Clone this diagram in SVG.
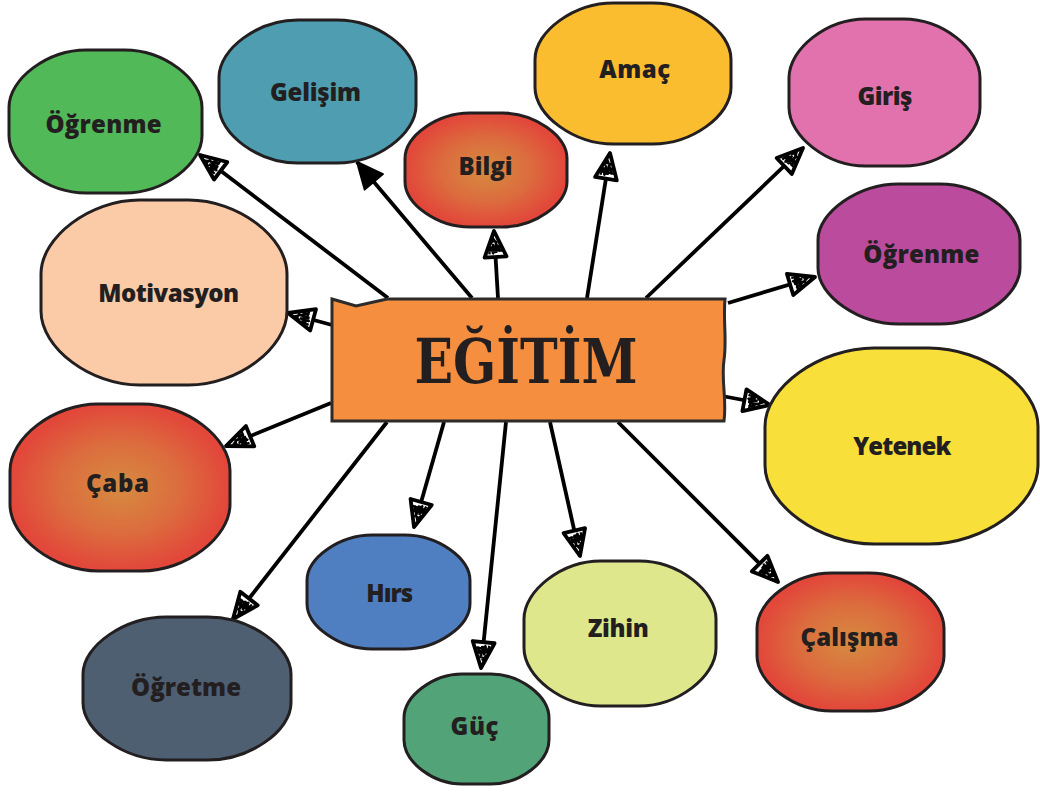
<svg xmlns="http://www.w3.org/2000/svg" width="1040" height="792" viewBox="0 0 1040 792">
<style>
.n{stroke:#231f20;stroke-width:3}
.t{font-family:"Open Sans","Liberation Sans",sans-serif;font-weight:800;font-size:24px;fill:#231f20;text-anchor:middle}
.c{stroke:#000;stroke-width:3.8;fill:none;marker-end:url(#ah)}
</style>
<defs>
<radialGradient id="rg" cx="0.5" cy="0.5" r="0.5">
<stop offset="0" stop-color="#d68b40"/>
<stop offset="0.55" stop-color="#dc6c3e"/>
<stop offset="1" stop-color="#e2473a"/>
</radialGradient>
<path id="blob" vector-effect="non-scaling-stroke" stroke="#231f20" stroke-width="3" d="M0.4,0 L0.6,0 C0.8,0 1,0.2 1,0.4 L1,0.6 C1,0.8 0.8,1 0.6,1 L0.4,1 C0.2,1 0,0.8 0,0.6 L0,0.4 C0,0.2 0.2,0 0.4,0 Z"/>
<marker id="ah" viewBox="0 0 32 28" refX="29" refY="14" markerWidth="32" markerHeight="28" markerUnits="userSpaceOnUse" orient="auto">
<path d="M3,3 L29,14 L3,25 Z" fill="#fff" stroke="#000" stroke-width="3.8" stroke-linejoin="round"/>
<path d="M6,8 L13,9 L7,12 L16,12 L7,15 L17,15 L8,19 L15,18 M10,6 L9,21 M13,9 L12,19 M19,11 L18,17 M6,11 L11,16 M16,10 L21,13 L16,16" fill="none" stroke="#000" stroke-width="2.3"/>
</marker>
<marker id="as" viewBox="0 0 32 28" refX="29" refY="14" markerWidth="32" markerHeight="28" markerUnits="userSpaceOnUse" orient="auto">
<path d="M3,2 L29,14 L3,26 Z" fill="#000" stroke="#000" stroke-width="2" stroke-linejoin="round"/>
</marker>
</defs>
<rect width="1040" height="792" fill="#fff"/>
<g id="connectors">
<line class="c" x1="388" y1="298" x2="200" y2="155"/>
<line class="c" x1="472" y1="298" x2="357" y2="162" style="marker-end:url(#as)"/>
<line class="c" x1="498" y1="298" x2="494" y2="231"/>
<line class="c" x1="587" y1="298" x2="610" y2="153"/>
<line class="c" x1="646" y1="298" x2="803" y2="148"/>
<line class="c" x1="728" y1="303" x2="815" y2="277"/>
<line class="c" x1="722" y1="396" x2="770" y2="405"/>
<line class="c" x1="618" y1="422" x2="778" y2="582"/>
<line class="c" x1="550" y1="422" x2="580" y2="556"/>
<line class="c" x1="506" y1="422" x2="481" y2="668"/>
<line class="c" x1="444" y1="422" x2="414" y2="527"/>
<line class="c" x1="387" y1="422" x2="233" y2="619"/>
<line class="c" x1="331" y1="403" x2="226" y2="446"/>
<line class="c" x1="332" y1="325" x2="288" y2="313"/>
</g>
<g id="center">
<path d="M332,299 L356,306 L387,299 L725,299 C723,320 727,340 724,360 C721,380 727,400 724,421 L332,421 Z" fill="#f58f3f" stroke="#2b2b2b" stroke-width="3"/>
<text x="526" y="383" font-family="'DejaVu Serif','Liberation Serif',serif" font-weight="700" font-size="62" fill="#231f20" text-anchor="middle" textLength="223" lengthAdjust="spacingAndGlyphs">EĞİTİM</text>
</g>
<g id="node-ogrenme1"><use href="#blob" transform="translate(9,50) scale(193,143)" fill="#52b958"/><text class="t" x="103.5" y="133" textLength="116">Öğrenme</text></g>
<g id="node-gelisim"><use href="#blob" transform="translate(219,20) scale(197,143)" fill="#4e9db0"/><text class="t" x="315.5" y="101" textLength="91">Gelişim</text></g>
<g id="node-bilgi"><use href="#blob" transform="translate(405,113) scale(162,114)" fill="url(#rg)"/><text class="t" x="485.5" y="175" textLength="54">Bilgi</text></g>
<g id="node-amac"><use href="#blob" transform="translate(535,3) scale(196,141)" fill="#fbbd30"/><text class="t" x="634.7" y="78" textLength="71">Amaç</text></g>
<g id="node-giris"><use href="#blob" transform="translate(789,19) scale(191,147)" fill="#e272ad"/><text class="t" x="885" y="105" textLength="55">Giriş</text></g>
<g id="node-ogrenme2"><use href="#blob" transform="translate(818,184) scale(202,140)" fill="#bb4b9c"/><text class="t" x="921.3" y="263" textLength="116">Öğrenme</text></g>
<g id="node-yetenek"><use href="#blob" transform="translate(765,348) scale(273,196)" fill="#f9df3a"/><text class="t" x="902.3" y="455" textLength="98">Yetenek</text></g>
<g id="node-calisma"><use href="#blob" transform="translate(757,573) scale(187,138)" fill="url(#rg)"/><text class="t" x="849.5" y="646" textLength="98">Çalışma</text></g>
<g id="node-zihin"><use href="#blob" transform="translate(524,561) scale(192,145)" fill="#dfe78c"/><text class="t" x="618.3" y="637" textLength="61">Zihin</text></g>
<g id="node-guc"><use href="#blob" transform="translate(404,674) scale(145,110)" fill="#52a378"/><text class="t" x="474.5" y="735" textLength="48">Güç</text></g>
<g id="node-hirs"><use href="#blob" transform="translate(307,535) scale(163,114)" fill="#4f7fc1"/><text class="t" x="389.7" y="601.7" textLength="47">Hırs</text></g>
<g id="node-ogretme"><use href="#blob" transform="translate(83,617) scale(208,143)" fill="#4f5f72"/><text class="t" x="186" y="695.7" textLength="110">Öğretme</text></g>
<g id="node-caba"><use href="#blob" transform="translate(10,404) scale(220,167)" fill="url(#rg)"/><text class="t" x="117.5" y="491.7" textLength="63">Çaba</text></g>
<g id="node-motivasyon"><use href="#blob" transform="translate(41,200) scale(246,185)" fill="#fbcba8"/><text class="t" x="168.7" y="302.3" textLength="141">Motivasyon</text></g>
</svg>
